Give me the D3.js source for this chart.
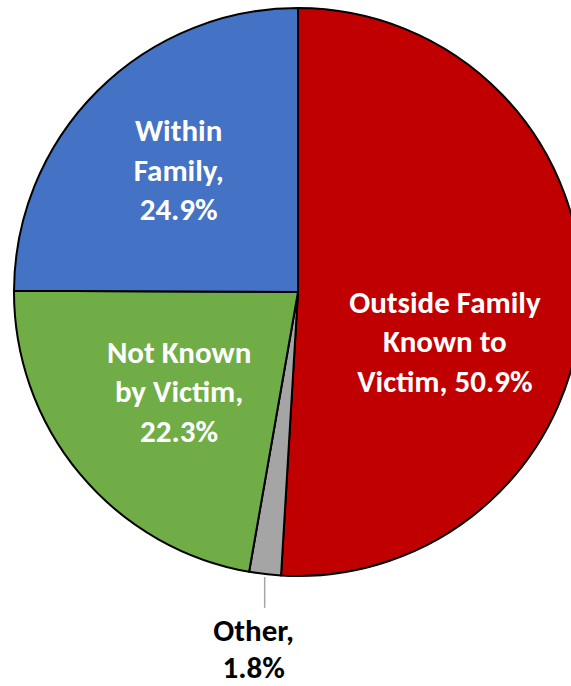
<!DOCTYPE html>
<html>
<head>
<meta charset="utf-8">
<script src="https://cdn.jsdelivr.net/npm/d3@7"></script>
<style>
  body { margin: 0; background: #fff; }
  svg { display: block; }
</style>
</head>
<body>
<div id="chart"></div>
<script>
var w = 571, h = 686;

var categories = ["Outside Family Known to Victim", "Other", "Not Known by Victim", "Within Family"];
var values = [50.9, 1.8, 22.3, 24.9];
var labelLines = [
    ["Outside Family", "Known to", "Victim, 50.9%"],
    ["Other,", "1.8%"],
    ["Not Known", "by Victim,", "22.3%"],
    ["Within", "Family,", "24.9%"]
];
var colors = ["#C00000", "#A5A5A5", "#70AD47", "#4472C4"];

var cx = 298, cy = 292, r = 284;

var data = categories.map(function(c, i) {
    return {name: c, value: values[i], lines: labelLines[i], color: colors[i]};
});

var pie = d3.pie().sort(null).value(function(d) { return d.value; });
var arc = d3.arc().innerRadius(0).outerRadius(r);

var svg = d3.select("#chart").append("svg")
    .attr("width", w)
    .attr("height", h);

var g = svg.append("g").attr("transform", "translate(" + cx + "," + cy + ")");

var arcs = pie(data);

g.selectAll("path")
    .data(arcs)
    .enter()
    .append("path")
    .attr("d", arc)
    .attr("fill", function(d) { return d.data.color; })
    .attr("stroke", "#000")
    .attr("stroke-width", 2)
    .attr("stroke-linejoin", "round");

// label centres: inside slices at a radius, small one outside below
var labelRadius = [147, 320, 155, 172];
var labelShift = [[0, 45], [0, 0], [0, 0], [2, 0]];
var lineH = 39.5;

function labelPos(d, i) {
    var a = (d.startAngle + d.endAngle) / 2;
    var rl = labelRadius[i];
    return [rl * Math.sin(a) + labelShift[i][0], -rl * Math.cos(a) + labelShift[i][1]];
}

// leader line for "Other"
var other = arcs[1];
var oa = (other.startAngle + other.endAngle) / 2;
g.append("line")
    .attr("x1", (r + 3) * Math.sin(oa))
    .attr("y1", -(r + 3) * Math.cos(oa))
    .attr("x2", (r + 3) * Math.sin(oa))
    .attr("y2", -(r + 34) * Math.cos(oa))
    .attr("stroke", "#A5A5A5")
    .attr("stroke-width", 1.5);

var labels = g.selectAll("text.lbl")
    .data(arcs)
    .enter()
    .append("text")
    .attr("class", "lbl")
    .attr("font-family", "Carlito, Lato, 'Open Sans', sans-serif")
    .attr("font-weight", "bold")
    .attr("font-size", "31px")
    .attr("text-anchor", "middle")
    .attr("fill", function(d, i) { return i === 1 ? "#000" : "#fff"; })
    .attr("transform", function(d, i) {
        var p = labelPos(d, i);
        if (i === 1) p = [(r + 3) * Math.sin(oa) - 11, 357];
        return "translate(" + p[0] + "," + p[1] + ")";
    });

labels.each(function(d, i) {
    var t = d3.select(this);
    var n = d.data.lines.length;
    var lh = i === 1 ? 37 : lineH;
    d.data.lines.forEach(function(line, k) {
        t.append("tspan")
            .attr("x", 0)
            .attr("y", (k - (n - 1) / 2) * lh)
            .attr("dy", "0.35em")
            .text(line);
    });
});
</script>
</body>
</html>
